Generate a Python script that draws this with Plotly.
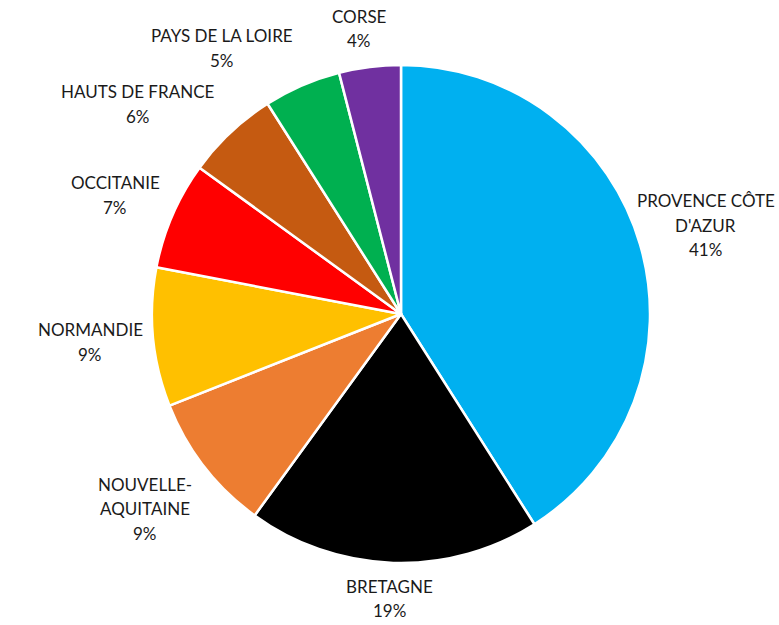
import math
import plotly.graph_objects as go

regions = ["PROVENCE CÔTE<br>D'AZUR", "BRETAGNE", "NOUVELLE-<br>AQUITAINE", "NORMANDIE",
           "OCCITANIE", "HAUTS DE FRANCE", "PAYS DE LA LOIRE", "CORSE"]
shares = [41, 19, 9, 9, 7, 6, 5, 4]
colors = ["#00B0F0", "#000000", "#ED7D31", "#FFC000", "#FF0000", "#C55A11", "#00B050", "#7030A0"]

W, H = 779, 625
CX, CY, R = 401, 314, 249          # pie centre and radius in pixels
FONT = 17
LINE_H = 24.5
GAP = 14
PAD = 6
KX, KY = 2.5, 1.5

CHAR_EM = {" ": 0.22, "I": 0.30, "'": 0.22, "-": 0.38, "%": 0.84, "M": 0.86, "W": 0.95}


def text_width(s):
    w = 0.0
    for ch in s:
        if ch.isdigit():
            w += 0.58
        else:
            w += CHAR_EM.get(ch, 0.66)
    return w * FONT


fig = go.Figure(go.Pie(
    labels=regions,
    values=shares,
    sort=False,
    direction="clockwise",
    rotation=0,
    marker=dict(colors=colors, line=dict(color="white", width=2.5)),
    textinfo="none",
    hoverinfo="label+percent",
    domain=dict(x=[(CX - R) / W, (CX + R) / W], y=[(H - CY - R) / H, (H - CY + R) / H]),
    showlegend=False,
))

total = sum(shares)
info = []
cum = 0
for lab, v in zip(regions, shares):
    mid = (cum + v / 2) / total * 2 * math.pi
    cum += v
    pct = round(v / total * 100)
    lines = lab.split("<br>") + [f"{pct}%"]
    info.append(dict(lines=lines, mid=mid,
                     w=max(text_width(s) for s in lines), h=len(lines) * LINE_H))


def place(it, ang):
    ux, uy = math.sin(ang), -math.cos(ang)
    ax, ay = CX + (R + GAP) * ux, CY + (R + GAP) * uy
    fx = max(-1.0, min(1.0, KX * ux))
    fy = max(-1.0, min(1.0, KY * uy))
    x, y = ax + fx * it["w"] / 2, ay + fy * it["h"] / 2
    x = min(max(x, it["w"] / 2 + 4), W - it["w"] / 2 - 4)
    y = min(max(y, it["h"] / 2 + 2), H - it["h"] / 2 - 2)
    return x, y


def overlaps(a, b):
    return (abs(a[0] - b[0]) < (a[2] + b[2]) / 2 + PAD and
            abs(a[1] - b[1]) < (a[3] + b[3]) / 2 + PAD)


order = [0] + list(range(len(info) - 1, 0, -1))
placed = {}
for i in order:
    it = info[i]
    ang = it["mid"]
    for _ in range(120):
        x, y = place(it, ang)
        box = (x, y, it["w"], it["h"])
        if not any(overlaps(box, b) for b in placed.values()):
            break
        ang -= math.radians(0.5)
    placed[i] = box

annotations = []
for i, it in enumerate(info):
    x, y = placed[i][0], placed[i][1]
    n = len(it["lines"])
    for k, s in enumerate(it["lines"]):
        ly = y + (k - (n - 1) / 2) * LINE_H
        annotations.append(dict(
            x=x / W, y=1 - ly / H, xref="paper", yref="paper",
            text=s, showarrow=False,
            xanchor="center", yanchor="middle", align="center",
            font=dict(family="Lato, Carlito, sans-serif", size=FONT, color="#1a1a1a"),
        ))

fig.update_layout(
    width=W, height=H,
    margin=dict(l=0, r=0, t=0, b=0),
    paper_bgcolor="white",
    plot_bgcolor="white",
    annotations=annotations,
)
fig.write_html("out.html", config={"displayModeBar": False},
               post_script="document.body.style.margin='0';")
